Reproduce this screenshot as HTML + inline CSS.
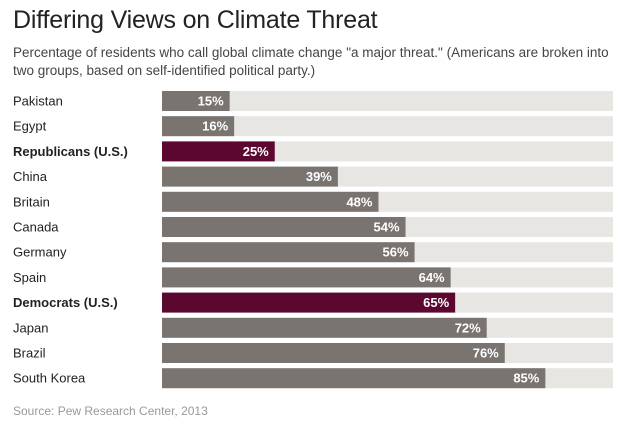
<!DOCTYPE html>
<html><head><meta charset="utf-8"><style>
body{margin:0;width:623px;height:434px;background:#fff;font-family:"Liberation Sans",sans-serif;overflow:hidden;position:relative}
h1{position:absolute;left:13px;top:6px;margin:0;font-weight:normal;font-size:25px;color:#222;letter-spacing:-0.2px}
.sub{position:absolute;left:13px;top:44px;width:600px;font-size:13.5px;line-height:18px;color:#444}
.src{position:absolute;left:13px;top:404px;font-size:12px;color:#999}
</style></head><body>
<h1>Differing Views on Climate Threat</h1>
<div class="sub">Percentage of residents who call global climate change "a major threat." (Americans are broken into two groups, based on self-identified political party.)</div>
<svg id="chart" width="623" height="434" style="position:absolute;left:0;top:0"></svg>
<div class="src">Source: Pew Research Center, 2013</div>
<script>
const categories=["Pakistan","Egypt","Republicans (U.S.)","China","Britain","Canada","Germany","Spain","Democrats (U.S.)","Japan","Brazil","South Korea"];
const values=[15,16,25,39,48,54,56,64,65,72,76,85];
const highlighted=["Republicans (U.S.)","Democrats (U.S.)"];
const svg=document.getElementById('chart');
const NS="http://www.w3.org/2000/svg";
const x0=162,x1=613,y0=91,step=25.2,bh=20;
const xs=v=>x0+(x1-x0)*v/100;
const ys=i=>y0+i*step;
categories.forEach((c,i)=>{
  const hi=highlighted.includes(c);
  const t=document.createElementNS(NS,'text');
  
  
  t.setAttribute('x',13);t.setAttribute('y',ys(i)+14.5);
  t.setAttribute('font-size','13');t.setAttribute('fill','#222');
  if(hi)t.setAttribute('font-weight','bold');
  t.textContent=c;svg.appendChild(t);
  const tr=document.createElementNS(NS,'rect');
  
  
  tr.setAttribute('x',x0);tr.setAttribute('y',ys(i));tr.setAttribute('width',x1-x0);tr.setAttribute('height',bh);tr.setAttribute('fill','#e8e6e2');
  svg.appendChild(tr);
  const r=document.createElementNS(NS,'rect');
  
  
  r.setAttribute('x',x0);r.setAttribute('y',ys(i));r.setAttribute('width',xs(values[i])-x0);r.setAttribute('height',bh);r.setAttribute('fill',hi?'#5c0730':'#7a7470');
  svg.appendChild(r);
  const v=document.createElementNS(NS,'text');
  
  
  v.setAttribute('x',xs(values[i])-6);v.setAttribute('y',ys(i)+14.5);
  v.setAttribute('text-anchor','end');v.setAttribute('font-size','13');v.setAttribute('font-weight','bold');v.setAttribute('fill','#fff');
  v.textContent=values[i]+'%';svg.appendChild(v);
});
</script>
</body></html>
